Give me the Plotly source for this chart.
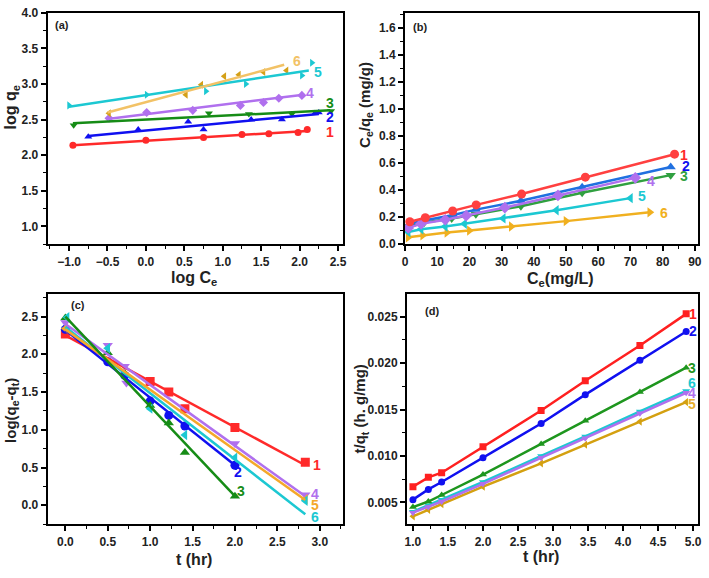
import plotly.graph_objects as go

# ---------------- Panel (a): Freundlich ----------------
a_x1 = [-0.95, 0.0, 0.75, 1.25, 1.6, 1.98, 2.1]
a_y1 = [2.14, 2.21, 2.25, 2.29, 2.30, 2.32, 2.36]
a_x2 = [-0.75, -0.1, 0.55, 0.75, 1.37, 1.77, 2.2, 2.25]
a_y2 = [2.26, 2.36, 2.47, 2.36, 2.50, 2.50, 2.59, 2.60]
a_x3 = [-0.94, 0.82, 1.34, 1.90, 2.41]
a_y3 = [2.42, 2.59, 2.58, 2.58, 2.62]
a_x4 = [-0.48, 0.01, 0.61, 1.23, 1.53, 1.73, 2.03]
a_y4 = [2.52, 2.60, 2.63, 2.70, 2.74, 2.80, 2.84]
a_x5 = [-1.0, 0.01, 0.78, 1.30, 2.03, 2.16]
a_y5 = [2.70, 2.85, 2.90, 3.00, 3.12, 3.30]
a_x6 = [-0.48, 0.52, 0.72, 1.02, 1.21, 1.53, 1.83]
a_y6 = [2.59, 2.85, 2.99, 3.11, 3.13, 3.17, 3.19]
# fitted lines (start, end)
a_fit_x = [[-0.95, 2.1], [-0.75, 2.25], [-0.95, 2.4], [-0.5, 2.05], [-1.0, 2.12], [-0.5, 1.8]]
a_fit_y = [[2.14, 2.34], [2.27, 2.58], [2.45, 2.63], [2.51, 2.85], [2.68, 3.19], [2.60, 3.27]]
a_lab_x = [2.40, 2.39, 2.40, 2.14, 2.24, 1.96]
a_lab_y = [2.33, 2.54, 2.74, 2.88, 3.17, 3.32]

# ---------------- Panel (b): Langmuir ----------------
b_x1 = [1.5, 6.3, 14.8, 22.1, 36.2, 56.0, 83.7]
b_y1 = [0.165, 0.195, 0.245, 0.29, 0.37, 0.495, 0.665]
b_x2 = [1.5, 6.0, 15.0, 22.0, 36.0, 55.0, 82.5]
b_y2 = [0.15, 0.175, 0.215, 0.255, 0.32, 0.42, 0.57]
b_x3 = [1.5, 6.0, 14.5, 22.0, 36.0, 55.0, 82.5]
b_y3 = [0.13, 0.16, 0.19, 0.22, 0.28, 0.38, 0.51]
b_x4 = [1.0, 5.0, 12.5, 19.0, 31.0, 47.5, 71.5]
b_y4 = [0.12, 0.15, 0.18, 0.21, 0.27, 0.36, 0.49]
b_x5 = [1.0, 5.0, 12.5, 18.5, 30.5, 47.0, 70.0]
b_y5 = [0.09, 0.11, 0.13, 0.15, 0.19, 0.25, 0.34]
b_x6 = [1.0, 5.5, 13.0, 20.0, 33.0, 50.0, 76.0]
b_y6 = [0.05, 0.065, 0.085, 0.10, 0.13, 0.17, 0.235]
b_lab_x = [86.6, 87.4, 86.6, 76.5, 73.7, 80.3]
b_lab_y = [0.66, 0.576, 0.504, 0.463, 0.353, 0.233]

# ---------------- Panel (c): pseudo-first-order ----------------
c_x1 = [0.0, 1.0, 1.22, 1.41, 2.0, 2.83]
c_y1 = [2.27, 1.64, 1.50, 1.28, 1.03, 0.57]
c_x2 = [0.0, 0.5, 0.7, 1.0, 1.22, 1.41, 2.0]
c_y2 = [2.33, 1.90, 1.72, 1.38, 1.19, 1.05, 0.53]
c_x3 = [0.0, 0.5, 0.7, 1.0, 1.22, 1.41, 2.0]
c_y3 = [2.48, 2.02, 1.75, 1.32, 1.09, 0.70, 0.12]
c_x4 = [0.0, 0.5, 0.7, 0.72, 2.0, 2.83]
c_y4 = [2.42, 2.12, 1.84, 1.62, 0.82, 0.14]
c_x5 = [0.0, 2.83]
c_y5 = [2.34, 0.08]
c_x6 = [0.02, 0.5, 1.0, 1.41, 2.0, 2.83]
c_y6 = [2.49, 2.08, 1.28, 0.93, 0.63, 0.06]
c_fit_x = [[0.0, 2.83], [0.0, 2.0], [0.0, 2.0], [0.0, 2.83], [0.0, 2.83], [0.0, 2.83]]
c_fit_y = [[2.25, 0.53], [2.32, 0.53], [2.50, 0.12], [2.40, 0.12], [2.33, 0.07], [2.36, -0.12]]
c_lab_x = [2.97, 2.04, 2.07, 2.94, 2.94, 2.94]
c_lab_y = [0.535, 0.44, 0.19, 0.15, 0.01, -0.155]

# ---------------- Panel (d): pseudo-second-order ----------------
d_t = [1.0, 1.22, 1.41, 2.0, 2.83, 3.46, 4.24, 4.9]
d_y1 = [0.0067, 0.0077, 0.0082, 0.0110, 0.0149, 0.0181, 0.0219, 0.0253]
d_y2 = [0.0053, 0.0064, 0.0072, 0.0098, 0.0135, 0.0166, 0.0203, 0.0234]
d_y3 = [0.0045, 0.0051, 0.0058, 0.0080, 0.0113, 0.0138, 0.0169, 0.0195]
d_y4 = [0.0039, 0.0045, 0.0051, 0.0070, 0.0098, 0.0119, 0.0146, 0.0168]
d_y5 = [0.0035, 0.0042, 0.0048, 0.0067, 0.0092, 0.0112, 0.0137, 0.0158]
d_y6 = [0.0040, 0.0047, 0.0053, 0.0072, 0.0100, 0.0121, 0.0148, 0.0170]
d_lab_x = [5.0, 5.0, 4.99, 4.99, 4.99, 4.99]
d_lab_y = [0.0253, 0.0234, 0.0195, 0.0168, 0.0156, 0.0179]

labels = ["1", "2", "3", "4", "5", "6"]

W, H = 709, 578
FONT = "Arial, Liberation Sans, sans-serif"

RED = "#FF2A2A"
BLUE = "#1010F0"
GREEN = "#168C16"
VIOLET = "#B070EE"
CYAN = "#1CC8D2"
GOLD_D = "#D4A017"
GOLD_L = "#F2C266"
ORANGE = "#F4A82A"

fig = go.Figure()

def dx(a, b):
    return [a / W, b / W]

def dy(top, bot):
    return [1 - bot / H, 1 - top / H]

def add(x, y, xa, ya, color, mode="markers", symbol="circle", size=7, width=2.5, lcolor=None):
    fig.add_trace(go.Scatter(
        x=x, y=y, mode=mode, xaxis=xa, yaxis=ya, showlegend=False,
        line=dict(color=lcolor or color, width=width),
        marker=dict(color=color, symbol=symbol, size=size, line=dict(width=0)),
        hoverinfo="skip"))

# Panel (a)
a_pts = [(a_x1, a_y1), (a_x2, a_y2), (a_x3, a_y3), (a_x4, a_y4), (a_x5, a_y5), (a_x6, a_y6)]
a_mcol = [RED, BLUE, GREEN, VIOLET, CYAN, GOLD_D]
a_lcol = [RED, BLUE, GREEN, VIOLET, CYAN, GOLD_L]
a_sym = ["circle", "triangle-up", "triangle-down", "diamond", "triangle-right", "triangle-left"]
for i in range(6):
    add(a_pts[i][0], a_pts[i][1], "x", "y", a_mcol[i], symbol=a_sym[i], size=7)
for i in range(6):
    add(a_fit_x[i], a_fit_y[i], "x", "y", a_lcol[i], mode="lines", width=2.5)
a_labcol = [RED, BLUE, GREEN, VIOLET, CYAN, GOLD_L]

# Panel (b)
b_pts = [(b_x1, b_y1), (b_x2, b_y2), (b_x3, b_y3), (b_x4, b_y4), (b_x5, b_y5), (b_x6, b_y6)]
b_col = ["#FF4040", "#2070E0", "#30A040", VIOLET, CYAN, "#F0B020"]
b_sym = ["circle", "triangle-up", "triangle-down", "diamond", "triangle-left", "triangle-right"]
for i in [5, 4, 2, 1, 3, 0]:
    add(b_pts[i][0], b_pts[i][1], "x2", "y2", b_col[i], mode="lines+markers", symbol=b_sym[i], size=9, width=2.5)
b_labcol = [RED, BLUE, "#30A040", VIOLET, CYAN, "#F0B020"]

# Panel (c)
c_pts = [(c_x1, c_y1), (c_x2, c_y2), (c_x3, c_y3), (c_x4, c_y4), (c_x5, c_y5), (c_x6, c_y6)]
c_col = [RED, BLUE, GREEN, VIOLET, ORANGE, CYAN]
c_sym = ["square", "circle", "triangle-up", "triangle-down", "triangle-left", "triangle-left"]
for i in range(6):
    add(c_pts[i][0], c_pts[i][1], "x3", "y3", c_col[i], symbol=c_sym[i], size=9)
for i in [0, 1, 3, 5, 4, 2]:
    add(c_fit_x[i], c_fit_y[i], "x3", "y3", c_col[i], mode="lines", width=2.5)

# Panel (d)
d_ys = [d_y1, d_y2, d_y3, d_y4, d_y5, d_y6]
d_col = ["#FF2020", "#1010F0", "#1E961E", VIOLET, "#D4A010", CYAN]
d_sym = ["square", "circle", "triangle-up", "triangle-down", "triangle-left", "triangle-down"]
for i in [4, 5, 3, 2, 1, 0]:
    add(d_t, d_ys[i], "x4", "y4", d_col[i], mode="lines+markers", symbol=d_sym[i], size=7, width=2.5)
d_labcol = ["#FF2020", "#1010F0", "#1E961E", VIOLET, "#E8B030", CYAN]

# label annotations
ann = []
def lab(x, y, text, color, xref, yref, size=14):
    ann.append(dict(x=x, y=y, xref=xref, yref=yref, text="<b>%s</b>" % text, showarrow=False,
                    font=dict(family=FONT, size=size, color=color), xanchor="center", yanchor="middle"))

for i in range(6):
    lab(a_lab_x[i], a_lab_y[i], labels[i], a_labcol[i], "x", "y")
    lab(b_lab_x[i], b_lab_y[i], labels[i], b_labcol[i], "x2", "y2")
    lab(c_lab_x[i], c_lab_y[i], labels[i], c_col[i], "x3", "y3")
    lab(d_lab_x[i], d_lab_y[i], labels[i], d_labcol[i], "x4", "y4")

def ptext(px, py, text, size=12, angle=0):
    ann.append(dict(x=px / W, y=1 - py / H, xref="paper", yref="paper", text=text, showarrow=False,
                    textangle=angle, font=dict(family=FONT, size=size, color="#222"),
                    xanchor="center", yanchor="middle"))

ptext(60, 18, "<b>(a)</b>", 11)
ptext(421, 20, "<b>(b)</b>", 11)
ptext(76, 305, "<b>(c)</b>", 11)
ptext(433, 312, "<b>(d)</b>", 11)

ptext(193, 278, "<b>log C<sub>e</sub></b>", 16)
ptext(9, 103, "<b>log q<sub>e</sub></b>", 16, -90)
ptext(563, 279, "<b>C<sub>e</sub>(mg/L)</b>", 16)
ptext(366, 100, "<b>C<sub>e</sub>/q<sub>e</sub> (mg/g)</b>", 15, -90)
ptext(193, 566, "<b>t (hr)</b>", 16)
ptext(9, 413, "<b>log(q<sub>e</sub>-q<sub>t</sub>)</b>", 15, -90)
ptext(543, 563, "<b>t (hr)</b>", 16)
ptext(361, 412, "<b>t/q<sub>t</sub> (h. g/mg)</b>", 15, -90)

def axis(domain, rng, dtick, fmt, anchor, minor_dtick, tick0=None):
    d = dict(domain=domain, range=rng, dtick=dtick, tickformat=fmt, anchor=anchor,
             showline=True, linecolor="black", linewidth=2, mirror=True,
             ticks="outside", ticklen=5, tickwidth=1.5, tickcolor="black",
             showgrid=False, zeroline=False, ticklabeloverflow="allow",
             tickfont=dict(family=FONT, size=12, color="#222", weight="bold"),
             minor=dict(ticks="outside", ticklen=3, tickwidth=1, tickcolor="black", dtick=minor_dtick, showgrid=False))
    if tick0 is not None:
        d["tick0"] = tick0
    return d

fig.update_layout(
    width=W, height=H, margin=dict(l=0, r=0, t=0, b=0),
    paper_bgcolor="white", plot_bgcolor="white", showlegend=False,
    xaxis=axis(dx(45, 343), [-1.28, 2.56], 0.5, ".1f", "y", 0.25, tick0=0),
    yaxis=axis(dy(6, 243), [0.75, 4.0005], 0.5, ".1f", "x", 0.25, tick0=0),
    xaxis2=axis(dx(406, 702), [0, 91], 10, "d", "y2", 5, tick0=0),
    yaxis2=axis(dy(6, 243), [0, 1.71], 0.2, ".1f", "x2", 0.1, tick0=0),
    xaxis3=axis(dx(45, 343), [-0.21, 3.27], 0.5, ".1f", "y3", 0.25, tick0=0),
    yaxis3=axis(dy(294, 530), [-0.25, 2.8], 0.5, ".1f", "x3", 0.25, tick0=0),
    xaxis4=axis(dx(408, 702), [0.915, 5.07], 0.5, ".1f", "y4", 0.25, tick0=0),
    yaxis4=axis(dy(294, 530), [0.00266, 0.02745], 0.005, ".3f", "x4", 0.0025, tick0=0),
    annotations=ann,
)

fig.write_html("out.html", config={"displayModeBar": False},
               post_script="document.body.style.margin='0';")
